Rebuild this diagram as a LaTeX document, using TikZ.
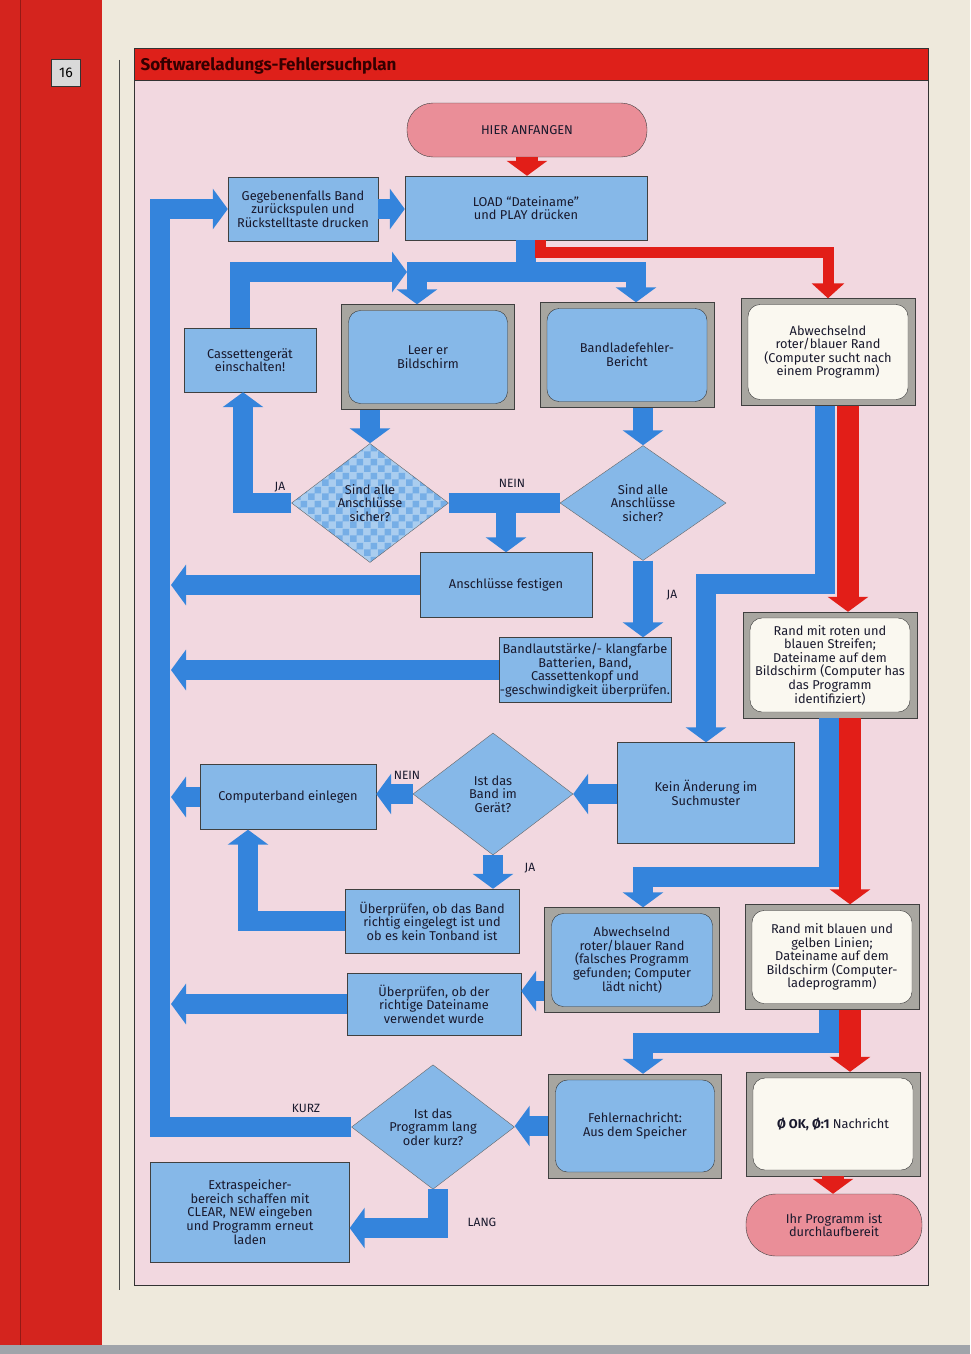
\documentclass[tikz,border=0pt]{standalone}
\usepackage{fontspec}
\setmainfont{Fira Sans}
\usetikzlibrary{shapes.geometric, arrows.meta, patterns}

\definecolor{spine}{RGB}{212,36,30}
\definecolor{paper}{RGB}{238,233,220}
\definecolor{scangray}{RGB}{160,164,170}
\definecolor{headred}{RGB}{222,32,26}
\definecolor{panelpink}{RGB}{242,216,224}
\definecolor{boxblue}{RGB}{134,184,232}
\definecolor{flowblue}{RGB}{52,132,220}
\definecolor{flowred}{RGB}{226,30,24}
\definecolor{pillred}{RGB}{234,142,152}
\definecolor{framegray}{RGB}{168,166,160}
\definecolor{screenwhite}{RGB}{250,248,240}
\definecolor{ink}{RGB}{25,25,45}

\newcommand{\chartsize}{\fontsize{12.8}{13.6}\selectfont}

% large gingham squares for the first query
\pgfdeclarepatternformonly{gingham}{\pgfpointorigin}{\pgfpoint{14pt}{14pt}}{\pgfpoint{14pt}{14pt}}{
  \pgfpathrectangle{\pgfpointorigin}{\pgfpoint{7pt}{7pt}}
  \pgfpathrectangle{\pgfpoint{7pt}{7pt}}{\pgfpoint{7pt}{7pt}}
  \pgfusepath{fill}
}

\tikzset{
  box/.style={rectangle, draw=black!75, fill=boxblue, align=center, inner sep=1pt, font=\chartsize, text=ink},
  pill/.style={rectangle, rounded corners=26pt, draw=black!75, fill=pillred, align=center, font=\chartsize, text=ink},
  tvframe/.style={rectangle, draw=black!75, fill=framegray},
  tvscreen/.style={rectangle, rounded corners=12pt, draw=black!80, fill=boxblue, align=center, inner sep=1pt, font=\chartsize, text=ink},
  query/.style={diamond, draw=black!60, fill=boxblue, align=center, inner sep=0pt, font=\chartsize, text=ink},
  flow/.style={draw=flowblue, line width=20pt, line join=miter, -{Triangle[width=40pt,length=15pt]}},
  link/.style={draw=flowblue, line width=20pt, line join=miter},
  redflow/.style={draw=flowred, line width=22pt, line join=miter, -{Triangle[width=40pt,length=15pt]}},
  tag/.style={font=\fontsize{12}{12}\selectfont, text=ink}
}

\begin{document}
\begin{tikzpicture}[x=1pt, y=-1pt]
\useasboundingbox (0,0) rectangle (970,1354);

% Page and book edge
\fill[scangray] (0,0) rectangle (970,1354);
\fill[paper] (0,0) rectangle (970,1345);
\fill[spine] (0,0) rectangle (102,1345);
\draw[spine!70!black, thin] (20,0) -- (20,1345);
\draw[black!70] (119,60) -- (119,1290);
\node[draw=black!80, fill=black!15, minimum width=29pt, minimum height=27pt, inner sep=0pt, font=\fontsize{14}{14}\selectfont] (pageno) at (66,73) {16};

% Header and panel
\draw[black!80, fill=headred] (134,48) rectangle (928,80);
\node[anchor=west, font=\bfseries\fontsize{17}{17}\selectfont, text=black!80!red] (title) at (137,66) {Softwareladungs-Fehlersuchplan};
\draw[black!80, fill=panelpink] (134,80) rectangle (928,1285);

% Coordinates for the rails
\coordinate (bus) at (160,209);
\coordinate (rail) at (171,209);
\coordinate (fork) at (417,272);
\coordinate (forkr) at (636,272);

% Start and load
\node[pill, minimum width=240pt, minimum height=54pt] (start) at (527,130) {HIER ANFANGEN};
\node[box, minimum width=242pt, minimum height=64pt] (load) at (526,208) {LOAD “Dateiname”\\und PLAY drücken};
\node[box, minimum width=150pt, minimum height=64pt] (rewind) at (303,209) {Gegebenenfalls Band\\zurückspulen und\\Rückstelltaste drucken};
\node[box, minimum width=132pt, minimum height=64pt] (cassette) at (250,360) {Cassettengerät\\einschalten!};

% Screens, top row
\node[tvframe, minimum width=173pt, minimum height=105pt] (blank) at (428,357) {};
\node[tvscreen, minimum width=159pt, minimum height=93pt] (blanktxt) at (blank) {Leer er\\Bildschirm};
\node[tvframe, minimum width=174pt, minimum height=105pt] (error) at (627,355) {};
\node[tvscreen, minimum width=160pt, minimum height=93pt] (errortxt) at (error) {Bandladefehler-\\Bericht};
\node[tvframe, minimum width=174pt, minimum height=107pt] (search) at (828,352) {};
\node[tvscreen, fill=screenwhite, minimum width=160pt, minimum height=95pt] (searchtxt) at (search) {Abwechselnd\\roter/blauer Rand\\(Computer sucht nach\\einem Programm)};

% Connection checks
\node[query, preaction={fill=white!30!boxblue}, pattern=gingham, pattern color=boxblue!80!flowblue, minimum width=157pt, minimum height=119pt] (checkered) at (370,503) {Sind alle\\Anschlüsse\\sicher?};
\node[query, minimum width=166pt, minimum height=115pt] (sure) at (643,503) {Sind alle\\Anschlüsse\\sicher?};
\node[box, minimum width=172pt, minimum height=65pt] (fix) at (506,585) {Anschlüsse festigen};
\node[box, minimum width=169pt, minimum height=65pt] (check) at (585,670) {Bandlautstärke/- klangfarbe\\Batterien, Band,\\Cassettenkopf und\\-geschwindigkeit überprüfen.};

% Right column
\node[tvframe, minimum width=174pt, minimum height=106pt] (found) at (830,665) {};
\node[tvscreen, fill=screenwhite, minimum width=160pt, minimum height=94pt] (foundtxt) at (found) {Rand mit roten und\\blauen Streifen;\\Dateiname auf dem\\Bildschirm (Computer has\\das Programm\\identifiziert)};
\node[tvframe, minimum width=174pt, minimum height=105pt] (loading) at (832,957) {};
\node[tvscreen, fill=screenwhite, minimum width=160pt, minimum height=93pt] (loadingtxt) at (loading) {Rand mit blauen und\\gelben Linien;\\Dateiname auf dem\\Bildschirm (Computer-\\ladeprogramm)};
\node[tvframe, minimum width=174pt, minimum height=104pt] (ok) at (833,1124) {};
\node[tvscreen, fill=screenwhite, minimum width=160pt, minimum height=92pt] (oktxt) at (ok) {\textbf{Ø OK, Ø:1} Nachricht};
\node[pill, rounded corners=30pt, minimum width=176pt, minimum height=62pt] (finish) at (834,1225) {Ihr Programm ist\\durchlaufbereit};

% Tape checks
\node[box, minimum width=177pt, minimum height=101pt] (nochange) at (706,793) {Kein Änderung im\\Suchmuster};
\node[query, minimum width=160pt, minimum height=122pt] (band) at (493,794) {Ist das\\Band im\\Gerät?};
\node[box, minimum width=176pt, minimum height=65pt] (tape) at (288,797) {Computerband einlegen};
\node[box, minimum width=174pt, minimum height=64pt] (inserted) at (432,921) {Überprüfen, ob das Band\\richtig eingelegt ist und\\ob es kein Tonband ist};
\node[tvframe, minimum width=175pt, minimum height=105pt] (wrong) at (632,960) {};
\node[tvscreen, minimum width=161pt, minimum height=93pt] (wrongtxt) at (wrong) {Abwechselnd\\roter/blauer Rand\\(falsches Programm\\gefunden; Computer\\lädt nicht)};
\node[box, minimum width=174pt, minimum height=62pt] (name) at (434,1004) {Überprüfen, ob der\\richtige Dateiname\\verwendet wurde};

% Memory
\node[tvframe, minimum width=173pt, minimum height=104pt] (memerr) at (635,1126) {};
\node[tvscreen, minimum width=159pt, minimum height=92pt] (memerrtxt) at (memerr) {Fehlernachricht:\\Aus dem Speicher};
\node[query, minimum width=163pt, minimum height=121pt] (size) at (433,1127) {Ist das\\Programm lang\\oder kurz?};
\node[box, minimum width=199pt, minimum height=100pt] (extra) at (250,1212) {Extraspeicher-\\bereich schaffen mit\\CLEAR, NEW eingeben\\und Programm erneut\\laden};

% Blue arrows
\draw[flow] (rewind.east) -- (rewind.east -| load.west);
\draw[flow] (load.south) |- (fork) -- (fork |- blank.north);
\draw[flow] (load.south) |- (forkr) -- (forkr |- error.north);
\draw[flow] ([xshift=-10pt]cassette.north) |- ([xshift=-10pt]fork);
\draw[flow] (checkered.north |- blank.south) -- (checkered.north);
\draw[flow] (sure.north |- error.south) -- (sure.north);
\draw[flow] (checkered.west) -| ([xshift=-7pt]cassette.south);
\draw[link] (checkered.east) -- (sure.west);
\draw[flow] (fix.north |- checkered.east) -- (fix.north);
\draw[flow] (sure.south) -- (sure.south |- check.north);
\draw[flow] (fix.west) -- (fix.west -| rail);
\draw[flow] (check.west) -- (check.west -| rail);
\draw[flow] ([xshift=-3pt]search.south) -- ++(0,178) -| (nochange.north);
\draw[flow] ([xshift=-1pt]found.south) -- ++(0,159) -| ([xshift=11pt]wrong.north);
\draw[flow] ([xshift=-3pt]loading.south) -- ++(0,33) -| ([xshift=8pt]memerr.north);
\draw[flow] (nochange.west |- band.east) -- (band.east);
\draw[flow] (band.west) -- (band.west -| tape.east);
\draw[flow] (tape.west) -- (tape.west -| rail);
\draw[flow] (band.south) -- (band.south |- inserted.north);
\draw[flow] (inserted.west) -| ([xshift=-40pt]tape.south);
\draw[flow] ([yshift=-31pt]wrong.west) -- ([yshift=-31pt]wrong.west -| name.east);
\draw[flow] (name.west) -- (name.west -| rail);
\draw[flow] (memerr.west) -- (memerr.west -| size.east);
\draw[flow] (size.west) -| (bus) -- (rewind.west);
\draw[flow] ([xshift=5pt]size.south) |- ([yshift=-16pt]extra.east);

% Red arrows
\draw[redflow] (start.south) -- (start.south |- load.north);
\draw[redflow, line width=11pt, -{Triangle[width=32pt,length=15pt]}] ([xshift=14pt]load.south) -- ++(0,12) -| (search.north);
\draw[redflow] ([xshift=20pt]search.south) -- ([xshift=20pt]search.south |- found.north);
\draw[redflow] ([xshift=20pt]found.south) -- ([xshift=20pt]found.south |- loading.north);
\draw[redflow] ([xshift=18pt]loading.south) -- ([xshift=18pt]loading.south |- ok.north);
\draw[redflow] (ok.south) -- (ok.south |- finish.north);

% Labels
\node[tag] (ja1) at (280,487) {JA};
\node[tag] (nein1) at (512,483) {NEIN};
\node[tag] (ja2) at (672,595) {JA};
\node[tag] (nein2) at (407,775) {NEIN};
\node[tag] (ja3) at (530,868) {JA};
\node[tag] (kurz) at (306,1108) {KURZ};
\node[tag] (lang) at (482,1222) {LANG};
\end{tikzpicture}
\end{document}
